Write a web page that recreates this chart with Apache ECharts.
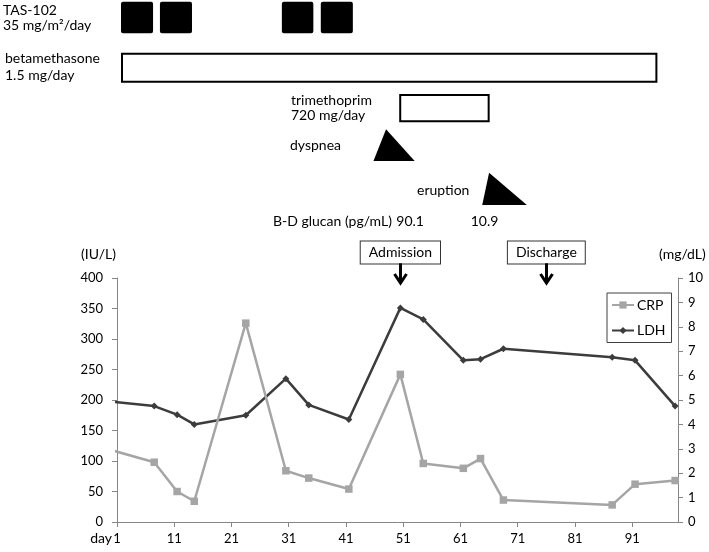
<!DOCTYPE html>
<html>
<head>
<meta charset="utf-8">
<script src="https://cdn.jsdelivr.net/npm/echarts@6/dist/echarts.min.js"></script>
<style>
  html, body { margin: 0; padding: 0; background: #fff; }
  #chart { width: 709px; height: 552px; }
</style>
</head>
<body>
<div id="chart"></div>
<script>
// lab values by day (first point lies before day 1 and is clipped)
const labDays = [-2, 7, 11, 14, 23, 30, 34, 41, 50, 54, 61, 64, 68, 87, 91, 98];
const ldh = [199, 190, 176, 160, 175, 235, 192, 168, 351, 332, 265, 267, 284, 270, 265, 190];
const crp = [3.05, 2.45, 1.25, 0.85, 8.15, 2.1, 1.8, 1.35, 6.05, 2.4, 2.2, 2.6, 0.9, 0.7, 1.55, 1.7];

// treatment periods and events, in days
const tasStart = [1.2, 8, 29.3, 36.1];
const tasEnd = [6.8, 13.6, 34.8, 41.7];
const betaDays = [1.2, 94.9];
const tmpDays = [49.8, 65.6];
const dyspneaDays = [45.3, 47.5, 52.5];   // start, peak, end
const eruptionDays = [64.3, 65.5, 72.1];
const glucanDays = [51.7, 64.7];
const glucanValues = ['90.1', '10.9'];
const eventNames = ['Admission', 'Discharge'];
const eventDays = [50, 75.5];

const dayTicks = [1, 11, 21, 31, 41, 51, 61, 71, 81, 91];
const ldhTicks = [0, 50, 100, 150, 200, 250, 300, 350, 400];
const crpTicks = [0, 1, 2, 3, 4, 5, 6, 7, 8, 9, 10];

// a day is drawn at the middle of its slot, the tick "1" is the start of day 1
const t = d => d - 0.5;

// vertical lanes of the timeline part (annotation axis units)
const lane = {
  tas: [1.7, 33.3],
  beta: [52.7, 82.7],
  tmp: [94, 122.3],
  dyspnea: [129.3, 161],
  eruption: [172.7, 205],
  glucan: 221.7,
  event: [252.5, 263.3, 284]
};

const FONT = 'Lato';
const AXIS_COLOR = '#868686';

function box(api, d0, d1, ys, filled) {
  const a = api.coord([d0, ys[0]]);
  const b = api.coord([d1, ys[1]]);
  if (filled) {
    return { type: 'rect', shape: { x: a[0], y: a[1], width: b[0] - a[0], height: b[1] - a[1], r: 2 },
      style: { fill: '#000' } };
  }
  return { type: 'rect', shape: { x: a[0] + 1, y: a[1] + 1, width: b[0] - a[0] - 2, height: b[1] - a[1] - 2 },
    style: { fill: '#fff', stroke: '#000', lineWidth: 2 } };
}

function triangle(api, ds, ys) {
  const l = api.coord([ds[0], ys[1]]);
  const p = api.coord([ds[1], ys[0]]);
  const r = api.coord([ds[2], ys[1]]);
  return { type: 'polygon', shape: { points: [l, p, r] }, style: { fill: '#000' } };
}

function label(text, x, y, align) {
  return {
    type: 'text', x: x, y: y,
    style: { text: text, font: '14px ' + FONT, fill: '#000', align: align || 'left', verticalAlign: 'middle' }
  };
}

const annot = { xAxisIndex: 1, yAxisIndex: 2, silent: true, animation: false };

const option = {
  animation: false,
  backgroundColor: '#fff',
  textStyle: { fontFamily: FONT },
  grid: [
    { left: 117, right: 31, top: 278, bottom: 30, outerBoundsMode: 'none' },
    { left: 117, right: 31, top: 0, height: 300, outerBoundsMode: 'none' }
  ],
  legend: {
    data: ['CRP', 'LDH'],
    orient: 'vertical',
    left: 607, top: 293,
    padding: [5, 6, 5, 4],
    itemGap: 11.5,
    itemWidth: 22, itemHeight: 9,
    borderColor: '#404040', borderWidth: 1,
    textStyle: { fontFamily: FONT, fontSize: 14, color: '#000', padding: [0, 0, 0, -2] }
  },
  xAxis: [
    {
      type: 'value', gridIndex: 0, min: t(0.5), max: t(98.5), interval: 10,
      axisLine: { show: true, onZero: false, lineStyle: { color: AXIS_COLOR } },
      axisTick: { show: true, length: 5, lineStyle: { color: AXIS_COLOR } },
      axisLabel: {
        margin: 10, fontSize: 13, fontFamily: FONT, color: '#000', showMaxLabel: false,
        formatter: v => dayTicks.includes(v + 1) ? String(v + 1) : ''
      },
      splitLine: { show: false }
    },
    { type: 'value', gridIndex: 1, min: t(0.5), max: t(98.5), show: false }
  ],
  yAxis: [
    {
      type: 'value', gridIndex: 0, position: 'left',
      min: ldhTicks[0], max: ldhTicks[ldhTicks.length - 1], interval: ldhTicks[1] - ldhTicks[0],
      axisLine: { show: true, lineStyle: { color: AXIS_COLOR } },
      axisTick: { show: true, length: 5, lineStyle: { color: AXIS_COLOR } },
      axisLabel: { margin: 14, fontSize: 13, fontFamily: FONT, color: '#000' },
      splitLine: { show: false }
    },
    {
      type: 'value', gridIndex: 0, position: 'right',
      min: crpTicks[0], max: crpTicks[crpTicks.length - 1], interval: crpTicks[1] - crpTicks[0],
      axisLine: { show: true, lineStyle: { color: AXIS_COLOR } },
      axisTick: { show: true, length: 5, lineStyle: { color: AXIS_COLOR } },
      axisLabel: { margin: 10, fontSize: 13, fontFamily: FONT, color: '#000' },
      splitLine: { show: false }
    },
    { type: 'value', gridIndex: 1, min: 0, max: 300, inverse: true, show: false }
  ],
  series: [
    {
      name: 'LDH', type: 'line', xAxisIndex: 0, yAxisIndex: 0, z: 3,
      data: labDays.map((d, i) => [t(d), ldh[i]]),
      symbol: 'diamond', symbolSize: 7, showAllSymbol: true,
      itemStyle: { color: '#3c3c3c' },
      lineStyle: { color: '#3c3c3c', width: 2.5 },
      emphasis: { disabled: true }
    },
    {
      name: 'CRP', type: 'line', xAxisIndex: 0, yAxisIndex: 1, z: 4,
      data: labDays.map((d, i) => [t(d), crp[i]]),
      symbol: 'rect', symbolSize: 7.5, showAllSymbol: true,
      itemStyle: { color: '#a5a5a5' },
      lineStyle: { color: '#a5a5a5', width: 2.5 },
      emphasis: { disabled: true }
    },
    Object.assign({
      name: 'TAS-102', type: 'custom',
      data: tasStart.map((s, i) => [t(s), t(tasEnd[i])]),
      renderItem: (p, api) => box(api, api.value(0), api.value(1), lane.tas, true)
    }, annot),
    Object.assign({
      name: 'betamethasone', type: 'custom',
      data: [[t(betaDays[0]), t(betaDays[1])]],
      renderItem: (p, api) => box(api, api.value(0), api.value(1), lane.beta, false)
    }, annot),
    Object.assign({
      name: 'trimethoprim', type: 'custom',
      data: [[t(tmpDays[0]), t(tmpDays[1])]],
      renderItem: (p, api) => box(api, api.value(0), api.value(1), lane.tmp, false)
    }, annot),
    Object.assign({
      name: 'dyspnea', type: 'custom',
      data: [dyspneaDays.map(t)],
      renderItem: (p, api) => triangle(api, [api.value(0), api.value(1), api.value(2)], lane.dyspnea)
    }, annot),
    Object.assign({
      name: 'eruption', type: 'custom',
      data: [eruptionDays.map(t)],
      renderItem: (p, api) => triangle(api, [api.value(0), api.value(1), api.value(2)], lane.eruption)
    }, annot),
    Object.assign({
      name: 'glucan', type: 'custom',
      data: glucanDays.map(d => [t(d)]),
      renderItem: (p, api) => {
        const c = api.coord([api.value(0), lane.glucan]);
        return label(glucanValues[p.dataIndex], c[0], c[1], 'center');
      }
    }, annot),
    Object.assign({
      name: 'events', type: 'custom',
      data: eventDays.map(d => [t(d)]),
      renderItem: (p, api) => {
        const c = api.coord([api.value(0), lane.event[0]]);
        const b = api.coord([api.value(0), lane.event[1]]);
        const tip = api.coord([api.value(0), lane.event[2]]);
        const x = Math.round(c[0]) + 0.5;
        return {
          type: 'group',
          children: [
            {
              type: 'text', x: c[0], y: c[1],
              style: {
                text: eventNames[p.dataIndex], font: '14px ' + FONT, fill: '#000',
                align: 'center', verticalAlign: 'middle', lineHeight: 14,
                padding: [4, 8], borderColor: '#333', borderWidth: 1, backgroundColor: '#fff'
              }
            },
            { type: 'line', shape: { x1: x, y1: b[1], x2: x, y2: tip[1] - 1 },
              style: { stroke: '#000', lineWidth: 3 } },
            { type: 'polyline', shape: { points: [[x - 6, tip[1] - 10], [x, tip[1] - 1], [x + 6, tip[1] - 10]] },
              style: { stroke: '#000', lineWidth: 3, fill: null } }
          ]
        };
      }
    }, annot)
  ],
  graphic: [
    label('TAS-102', 3, 10),
    label('35 mg/m²/day', 3, 25),
    label('betamethasone', 5, 58),
    label('1.5 mg/day', 5, 75),
    label('trimethoprim', 291, 100),
    label('720 mg/day', 291, 115),
    label('dyspnea', 290, 145),
    label('eruption', 417, 190),
    label('B-D glucan (pg/mL)', 273, 221.7),
    label('(IU/L)', 81, 254),
    label('(mg/dL)', 659, 254),
    label('day', 112, 538, 'right')
  ]
};

const chart = echarts.init(document.getElementById('chart'), null, { renderer: 'canvas' });
chart.setOption(option);
</script>
</body>
</html>
